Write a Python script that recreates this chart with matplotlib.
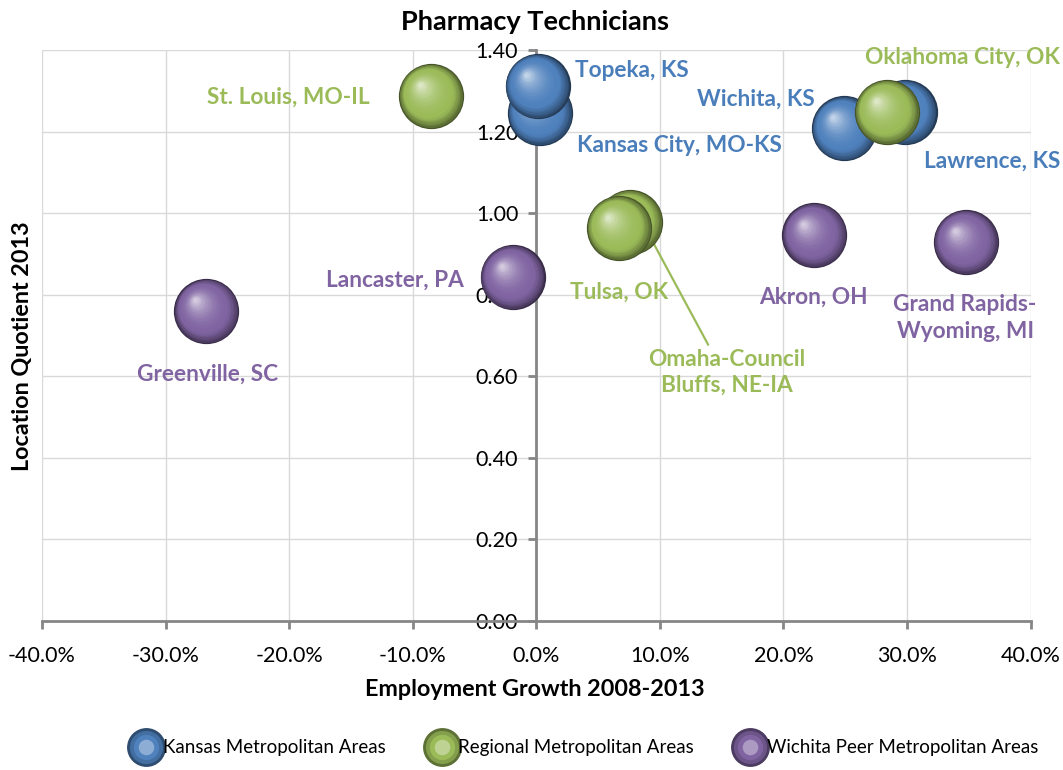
import matplotlib
matplotlib.use('Agg')
import matplotlib.pyplot as plt
import matplotlib.transforms as mtransforms
from matplotlib.ticker import FuncFormatter
from matplotlib.lines import Line2D
from matplotlib.legend_handler import HandlerTuple
from matplotlib.colors import to_rgb
import numpy as np

plt.rcParams['font.family'] = ['Lato', 'DejaVu Sans']

# ---------------- data ----------------
group_names = ["Kansas Metropolitan Areas", "Regional Metropolitan Areas",
               "Wichita Peer Metropolitan Areas"]
group_colors = ["#4f81bd", "#9bbb59", "#8064a2"]
label_colors = ["#4a7ebb", "#9bbb59", "#8064a2"]

kansas_names = ["Kansas City, MO-KS", "Topeka, KS", "Wichita, KS", "Lawrence, KS"]
kansas_growth = [0.3, 0.1, 24.9, 29.8]          # %
kansas_lq = [1.245, 1.312, 1.208, 1.248]

regional_names = ["St. Louis, MO-IL", "Oklahoma City, OK",
                  "Omaha-Council\nBluffs, NE-IA", "Tulsa, OK"]
regional_growth = [-8.5, 28.4, 7.6, 6.7]
regional_lq = [1.287, 1.248, 0.978, 0.963]

peer_names = ["Akron, OH", "Grand Rapids-\nWyoming, MI", "Lancaster, PA", "Greenville, SC"]
peer_growth = [22.5, 34.8, -1.9, -26.7]
peer_lq = [0.946, 0.929, 0.843, 0.760]

x_ticks = [-40, -30, -20, -10, 0, 10, 20, 30, 40]
y_ticks = [0.0, 0.2, 0.4, 0.6, 0.8, 1.0, 1.2, 1.4]

# label placement (offsets in data units relative to the point) and alignment
kansas_lbl = [((3.0, -0.078), 'left'), ((3.0, 0.038), 'left'),
              ((-2.4, 0.071), 'right'), ((1.6, -0.121), 'left')]
regional_lbl = [((-5.0, -0.003), 'right'), ((6.1, 0.134), 'center'),
                ((7.8, -0.368), 'center'), ((0.0, -0.157), 'center')]
peer_lbl = [((-0.1, -0.152), 'center'), ((-0.1, -0.186), 'center'),
            ((-3.95, -0.007), 'right'), ((0.1, -0.155), 'center')]

# ---------------- figure ----------------
fig = plt.figure(figsize=(10.63, 7.70), dpi=100)
ax = fig.add_axes([0.0395, 0.1935, 0.930, 0.7415])

SIZE = 47.0  # marker diameter, points


def sphere(x, y, color, z):
    base = np.array(to_rgb(color))
    dark = base * 0.45
    light = base + (1 - base) * 0.65
    n = 28
    for i in range(n):
        t = i / (n - 1)
        d = SIZE * (1 - 0.93 * t)
        off = t * SIZE * 0.17
        tr = mtransforms.offset_copy(ax.transData, fig=fig, x=-off, y=off, units='points')
        if t < 0.25:
            c = dark + (base - dark) * (t / 0.25) ** 0.7
        else:
            c = base + (light - base) * ((t - 0.25) / 0.75) ** 2.0
        ax.scatter([x], [y], s=d ** 2, color=np.clip(c, 0, 1), transform=tr,
                   zorder=z + i * 1e-3, linewidths=0)


series = [
    (kansas_names, kansas_growth, kansas_lq, kansas_lbl),
    (regional_names, regional_growth, regional_lq, regional_lbl),
    (peer_names, peer_growth, peer_lq, peer_lbl),
]

z = 3.0
for gi, (names, gx, gy, lbls) in enumerate(series):
    for name, x, y, ((dx, dy), ha) in zip(names, gx, gy, lbls):
        sphere(x, y, group_colors[gi], z)
        z += 0.1
        ax.text(x + dx, y + dy, name, color=label_colors[gi], fontsize=16.3,
                fontweight='bold', ha=ha, va='center', zorder=10,
                linespacing=1.3)

# leader line for Omaha
om_x, om_y = regional_growth[2], regional_lq[2]
ax.plot([om_x + 1.5, om_x + 6.3], [om_y - 0.03, om_y - 0.30], color="#9bbb59",
        lw=1.6, zorder=2.5)

ax.set_xlim(-40, 40)
ax.set_ylim(0, 1.4)
ax.set_xticks(x_ticks)
ax.set_yticks(y_ticks)
ax.xaxis.set_major_formatter(FuncFormatter(lambda v, p: f"{v:.1f}%"))
ax.yaxis.set_major_formatter(FuncFormatter(lambda v, p: f"{v:.2f}"))

ax.grid(True, color="#d9d9d9", lw=1.0, zorder=0)
ax.set_axisbelow(True)
for s in ['top', 'right']:
    ax.spines[s].set_visible(False)
ax.spines['left'].set_position(('data', 0))
for s in ['left', 'bottom']:
    ax.spines[s].set_color("#868686")
    ax.spines[s].set_linewidth(2.0)
    ax.spines[s].set_zorder(2)
ax.tick_params(axis='x', direction='out', length=6, width=2.0, color="#868686",
               pad=12, labelsize=15.5)
ax.tick_params(axis='y', direction='out', length=6, width=2.0, color="#868686",
               pad=7, labelsize=15.5)

fig.text(0.503, 0.972, "Pharmacy Technicians", ha='center', va='center',
         fontsize=19.5, fontweight='bold')
fig.text(0.503, 0.104, "Employment Growth 2008-2013", ha='center', va='center',
         fontsize=16.8, fontweight='bold')
fig.text(0.021, 0.55, "Location Quotient 2013", ha='center', va='center',
         rotation=90, fontsize=16.8, fontweight='bold')

# legend
handles = []
for c in group_colors:
    base = np.array(to_rgb(c))
    parts = []
    for k, f in enumerate([1.0, 0.85, 0.65, 0.4]):
        col = [base * 0.6, base * 0.85, base, base + (1 - base) * 0.35][k]
        parts.append(Line2D([], [], marker='o', ls='', markersize=28 * f,
                            markerfacecolor=np.clip(col, 0, 1), markeredgewidth=0))
    handles.append(tuple(parts))
fig.legend(handles, group_names, loc='center', bbox_to_anchor=(0.55, 0.029),
           ncol=3, frameon=False, fontsize=13.5, handletextpad=0.1,
           columnspacing=2.2, handlelength=1.6,
           handler_map={tuple: HandlerTuple(ndivide=1, pad=0)})

fig.savefig("out.png", dpi=100)
